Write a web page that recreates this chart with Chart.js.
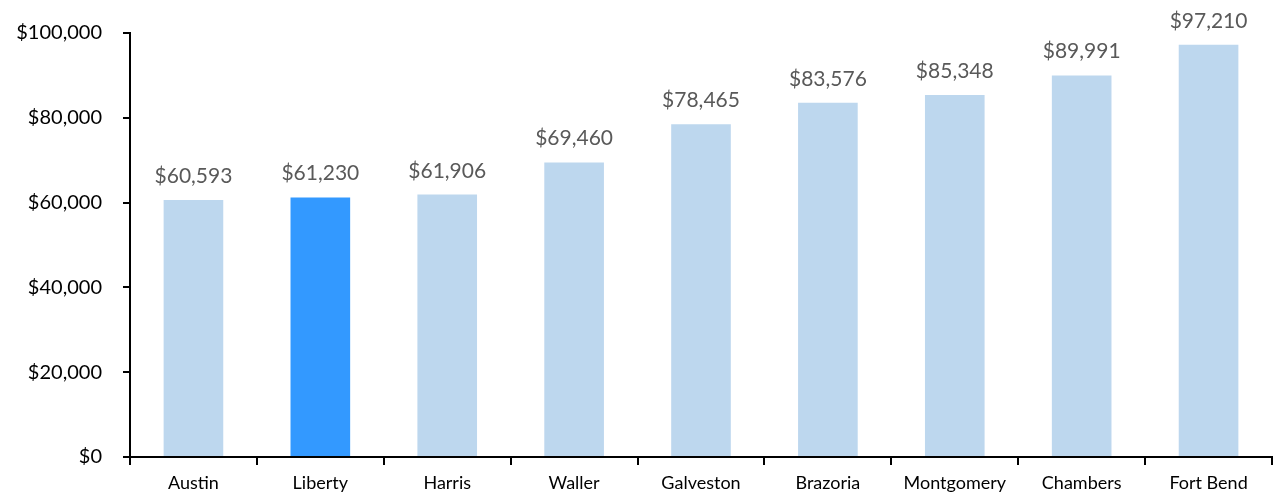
<!DOCTYPE html>
<html>
<head>
<meta charset="utf-8">
<script src="https://cdn.jsdelivr.net/npm/chart.js@4"></script>
<style>
  html, body { margin: 0; padding: 0; background: #fff; }
  #wrap { width: 1276px; height: 494px; }
</style>
</head>
<body>
<div id="wrap"><canvas id="incomeChart" width="1276" height="494"></canvas></div>
<script>
const counties = ["Austin", "Liberty", "Harris", "Waller", "Galveston", "Brazoria", "Montgomery", "Chambers", "Fort Bend"];
const medianIncome = [60593, 61230, 61906, 69460, 78465, 83576, 85348, 89991, 97210];
const highlightCounty = "Liberty";
const yTicks = [0, 20000, 40000, 60000, 80000, 100000];

const fmt = (v) => "$" + v.toLocaleString("en-US");

// Value labels above each bar
const barLabels = {
  id: "barLabels",
  afterDatasetsDraw(chart) {
    const ctx = chart.ctx;
    const meta = chart.getDatasetMeta(0);
    ctx.save();
    ctx.font = "21px Lato";
    ctx.fillStyle = "#595959";
    ctx.textAlign = "center";
    ctx.textBaseline = "alphabetic";
    meta.data.forEach((bar, i) => {
      ctx.fillText(fmt(medianIncome[i]), bar.x, bar.y - 17);
    });
    ctx.restore();
  },
};

new Chart(document.getElementById("incomeChart").getContext("2d"), {
  type: "bar",
  data: {
    labels: counties,
    datasets: [
      {
        data: medianIncome,
        backgroundColor: counties.map((c) => (c === highlightCounty ? "#3399FF" : "#BDD7EE")),
        barPercentage: 0.47,
        categoryPercentage: 1,
      },
    ],
  },
  options: {
    responsive: false,
    animation: false,
    devicePixelRatio: 1,
    layout: { padding: { top: 33, right: 4, left: 0, bottom: 0 } },
    plugins: {
      legend: { display: false },
      tooltip: { enabled: false },
    },
    scales: {
      x: {
        afterFit: (scale) => { scale.height = 37; },
        grid: {
          offset: true,
          drawOnChartArea: false,
          drawTicks: true,
          tickLength: 8,
          color: "#000",
          lineWidth: 2,
        },
        border: { color: "#000", width: 2 },
        ticks: { color: "#000", font: { family: "Lato", size: 18 }, padding: 7 },
      },
      y: {
        min: 0,
        max: 100000,
        afterFit: (scale) => { scale.width = 130; },
        afterBuildTicks: (axis) => {
          axis.ticks = yTicks.map((v) => ({ value: v }));
        },
        grid: {
          drawOnChartArea: false,
          drawTicks: true,
          tickLength: 7,
          color: "#000",
          lineWidth: 2,
        },
        border: { color: "#000", width: 2 },
        ticks: {
          color: "#000",
          font: { family: "Lato", size: 20 },
          padding: 21,
          callback: (v) => fmt(v),
        },
      },
    },
  },
  plugins: [barLabels],
});
</script>
</body>
</html>
